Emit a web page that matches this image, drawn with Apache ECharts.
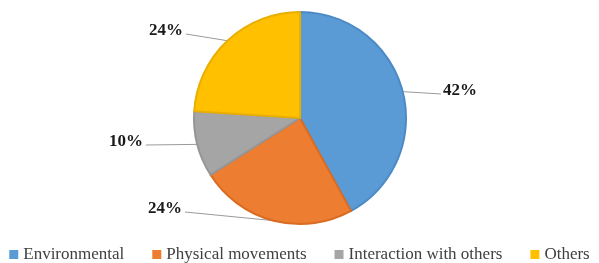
<!DOCTYPE html>
<html>
<head>
<meta charset="utf-8">
<script src="https://cdn.jsdelivr.net/npm/echarts@6/dist/echarts.min.js"></script>
<style>
  html, body { margin: 0; padding: 0; background: #fff; }
  #main { width: 599px; height: 263px; }
</style>
</head>
<body>
<div id="main"></div>
<script>
// categories and shares (%)
var categories = ['Environmental', 'Physical movements', 'Interaction with others', 'Others'];
var shares = [42, 24, 10, 24];
var colors = ['#5B9BD5', '#ED7D31', '#A5A5A5', '#FFC000'];
var borders = ['#4C8AC6', '#D96C22', '#969696', '#E8AE00'];

// where each percent label sits (x, y, align)
var labelSpots = [
  [443, 91, 'left'],
  [182, 209, 'right'],
  [143, 142, 'right'],
  [183, 31, 'right']
];

var myChart = echarts.init(document.getElementById('main'));

var pieData = categories.map(function (name, i) {
  return {
    name: name,
    value: shares[i],
    itemStyle: { color: colors[i], borderColor: borders[i] }
  };
});

var option = {
  animation: false,
  legend: {
    top: 246,
    left: 'center',
    padding: 0,
    itemWidth: 9,
    itemHeight: 9,
    itemGap: 28,
    icon: 'rect',
    itemStyle: { borderWidth: 0 },
    textStyle: {
      fontFamily: 'Liberation Serif',
      fontSize: 17,
      color: '#404040'
    },
    data: categories
  },
  series: [{
    type: 'pie',
    center: [300, 118],
    radius: 106,
    startAngle: 90,
    clockwise: true,
    itemStyle: { borderWidth: 2 },
    label: {
      show: true,
      position: 'outside',
      formatter: '{c}%',
      fontFamily: 'Liberation Serif',
      fontWeight: 'bold',
      fontSize: 17,
      color: '#1a1a1a'
    },
    labelLine: {
      show: true,
      length: 12,
      length2: 30,
      smooth: false,
      lineStyle: { color: '#9a9a9a', width: 1 }
    },
    // straight leader from slice edge to the label, like the original
    labelLayout: function (params) {
      var s = labelSpots[params.dataIndex];
      var p0 = params.labelLinePoints ? params.labelLinePoints[0] : null;
      var ex = s[2] === 'left' ? s[0] - 2 : s[0] + 3;
      var end = [ex, s[1] + 3];
      var out = { x: s[0], y: s[1], align: s[2], verticalAlign: 'middle' };
      if (p0) out.labelLinePoints = [p0, end, end];
      return out;
    },
    data: pieData
  }]
};

myChart.setOption(option);
window.addEventListener('resize', function () {
  myChart.resize();
});
</script>
</body>
</html>
